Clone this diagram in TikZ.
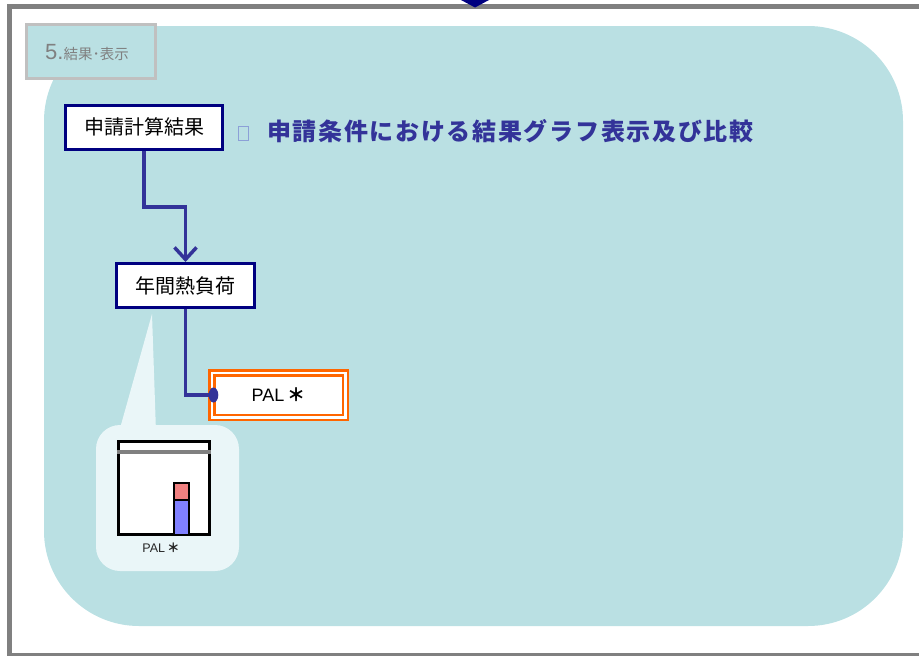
\documentclass[tikz,border=0pt]{standalone}
\usepackage{fontspec}
\setmainfont{Liberation Sans}
\newfontfamily\jp{Noto Sans CJK JP}
\newfontfamily\jptitle[LetterSpace=7]{Noto Sans CJK JP}
\usetikzlibrary{arrows.meta,calc}
\definecolor{tealbg}{RGB}{186,224,227}
\definecolor{framegray}{RGB}{128,128,128}
\definecolor{lblgray}{RGB}{192,192,192}
\definecolor{navyb}{RGB}{0,0,128}
\definecolor{connc}{RGB}{51,51,153}
\definecolor{orangeb}{RGB}{255,102,0}
\definecolor{callfill}{RGB}{234,246,248}
\definecolor{barblue}{RGB}{128,128,255}
\definecolor{barred}{RGB}{240,128,128}
\definecolor{sqc}{RGB}{140,160,215}
\begin{document}
\begin{tikzpicture}[x=1pt,y=-1pt,
  navybox/.style={draw=navyb,line width=3pt,fill=white,inner sep=0pt,
    font=\jp\fontsize{20}{23}\selectfont},
  conn/.style={draw=connc,line width=3.5pt},
  palbox/.style={draw=orangeb,double=white,double distance=2.5pt,line width=2.5pt,
    fill=white,inner sep=0pt,minimum width=133.5pt,minimum height=44.5pt,
    font=\fontsize{18}{21}\selectfont}]
\useasboundingbox (0,0) rectangle (919,656);
% outer frame
\draw[framegray,line width=5pt] (9.5,6) rectangle (940,655.5);
\fill[navyb] (461,0) -- (489,0) -- (475,7.5) -- cycle;
% teal region
\fill[tealbg,rounded corners=95pt] (44,26) rectangle (903,626);
% section label
\node[draw=lblgray,line width=3pt,fill=tealbg,minimum width=129pt,minimum height=54pt,inner sep=0pt] (lbl) at (91,51.5) {};
\node[anchor=base west,text=framegray,inner sep=0pt] (lbltxt) at (45,59)
  {\fontsize{22}{24}\selectfont 5.\jp\fontsize{14.5}{16}\selectfont 結果･表示};
% main boxes
\node[navybox,minimum width=157pt,minimum height=44pt] (res) at (144,127) {申請計算結果};
\node[navybox,minimum width=138pt,minimum height=44pt] (nen) at (185.5,285.5) {年間熱負荷};
\node[palbox] (pal) at (278.5,395) {PAL\,{\jp\bfseries ＊}};
% title
\node[draw=sqc,line width=0.8pt,minimum width=10pt,minimum height=14pt,inner sep=0pt] (sq) at (243,133) {};
\node[anchor=west,inner sep=0pt,text=connc,font=\jptitle\bfseries\fontsize{24}{28}\selectfont] (title) at (267,131)
  {申請条件における結果グラフ表示及び比較};
% connectors
\coordinate (bend) at (144,207);
\draw[conn,-{Straight Barb[length=12pt,width=22pt,line width=3.5pt]}]
  (res.south) -- (bend) -| (nen.north);
\draw[conn] (nen.south) |- (pal.west);
\fill[connc] ($(pal.west)+(3,0)$) ellipse (4.8pt and 7.5pt);
% callout
\fill[callfill] (152,314) -- (156,432) -- (119,432) -- cycle;
\fill[callfill,rounded corners=24pt] (96,425) rectangle (239,571);
\node[draw=black,line width=3pt,fill=white,minimum width=91pt,minimum height=93pt,inner sep=0pt] (chart) at (163.5,487.5) {};
\draw[framegray,line width=4pt] (chart.west |- 0,452) -- (chart.east |- 0,452);
\draw[black,line width=2pt,fill=barblue] (174,500) rectangle (189,535);
\draw[black,line width=2pt,fill=barred] (174,483) rectangle (189,500);
\node[text=black!85,inner sep=0pt,font=\fontsize{12.5}{14}\selectfont] (pallbl) at (161,547.5) {PAL\,{\jp\bfseries ＊}};
\end{tikzpicture}
\end{document}
